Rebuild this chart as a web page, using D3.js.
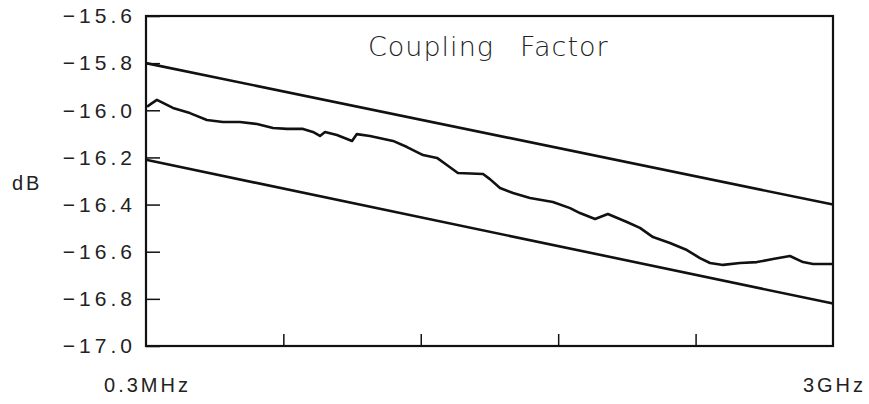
<!DOCTYPE html>
<html lang="en">
<head>
<meta charset="UTF-8">
<title>Coupling Factor</title>
<script src="https://d3js.org/d3.v7.min.js"></script>
<style>
  body { margin: 0; background: #fff; }
  .lbl { font-family: "Liberation Sans", Arial, sans-serif; fill: #222; }
  .title { font-family: "DejaVu Sans", sans-serif; font-weight: 200; fill: #222; }
</style>
</head>
<body>
<div id="chart"></div>
<script>
// frequency in MHz, coupling in dB
const freq = [5, 22, 48, 118, 192, 266, 336, 410, 485, 555, 616, 686, 729, 760, 782, 834,
  900, 921, 978, 1079, 1140, 1210, 1271, 1314, 1362, 1472, 1502, 1546, 1603, 1677, 1777,
  1852, 1895, 1961, 2017, 2100, 2157, 2214, 2288, 2362, 2419, 2463, 2520, 2594, 2668,
  2738, 2812, 2869, 2913, 2987, 3000];
const coupling = [-15.985, -15.973, -15.956, -15.990, -16.012, -16.041, -16.050, -16.050,
  -16.058, -16.075, -16.079, -16.079, -16.092, -16.109, -16.092, -16.105, -16.130, -16.101,
  -16.109, -16.130, -16.156, -16.190, -16.202, -16.232, -16.266, -16.270, -16.292, -16.330,
  -16.351, -16.372, -16.389, -16.415, -16.436, -16.461, -16.440, -16.474, -16.499, -16.538,
  -16.563, -16.593, -16.627, -16.648, -16.656, -16.648, -16.644, -16.631, -16.618, -16.644,
  -16.652, -16.652, -16.652];

// limit lines (start / end)
const limitFreq = [0.3, 3000];
const upperLimit = [-15.8, -16.4];
const lowerLimit = [-16.21, -16.82];

const yTicks = [-15.6, -15.8, -16.0, -16.2, -16.4, -16.6, -16.8, -17.0];
const xTicks = [600, 1200, 1800, 2400];
const xEndLabels = ["0.3MHz", "3GHz"];

const width = 869, height = 404;
const margin = {top: 16, right: 36, bottom: 58, left: 146};
const w = width - margin.left - margin.right;
const h = height - margin.top - margin.bottom;

const svg = d3.select("#chart").append("svg")
  .attr("width", width)
  .attr("height", height);

const g = svg.append("g")
  .attr("transform", `translate(${margin.left},${margin.top})`);

const x = d3.scaleLinear().domain([0.3, 3000]).range([0, w]);
const y = d3.scaleLinear().domain([-15.6, -17.0]).range([0, h]);

// y axis: inward ticks, labels outside
const yAxis = g.append("g")
  .call(d3.axisLeft(y).tickValues(yTicks).tickSize(-14).tickPadding(10)
    .tickFormat(d3.format(".1f")));
yAxis.select(".domain").remove();
yAxis.selectAll(".tick line").attr("stroke", "#111").attr("stroke-width", 1.5);
yAxis.selectAll(".tick text")
  .attr("class", "lbl")
  .style("font-size", "21px")
  .style("letter-spacing", "4px");

// x axis: inward ticks only
const xAxis = g.append("g")
  .attr("transform", `translate(0,${h})`)
  .call(d3.axisBottom(x).tickValues(xTicks).tickSize(-12).tickFormat(""));
xAxis.select(".domain").remove();
xAxis.selectAll(".tick line").attr("stroke", "#111").attr("stroke-width", 1.5);

g.selectAll(".xend")
  .data(xEndLabels)
  .enter().append("text")
  .attr("class", "lbl")
  .attr("x", (d, i) => x(limitFreq[i]) + 1.5)
  .attr("y", h + 46)
  .attr("text-anchor", "middle")
  .style("font-size", "20px")
  .style("letter-spacing", "3px")
  .text(d => d);

svg.append("text")
  .attr("class", "lbl")
  .attr("x", 12)
  .attr("y", 190)
  .style("font-size", "20px")
  .style("letter-spacing", "3px")
  .text("dB");

// frame
g.append("rect")
  .attr("width", w)
  .attr("height", h)
  .attr("fill", "none")
  .attr("stroke", "#111")
  .attr("stroke-width", 2.2);

const line = d3.line()
  .x(d => x(d[0]))
  .y(d => y(d[1]));

[upperLimit, lowerLimit].forEach(lim => {
  g.append("path")
    .attr("d", line(limitFreq.map((f, i) => [f, lim[i]])))
    .attr("fill", "none")
    .attr("stroke", "#111")
    .attr("stroke-width", 2.6);
});

g.append("path")
  .attr("d", line(freq.map((f, i) => [f, coupling[i]])))
  .attr("fill", "none")
  .attr("stroke", "#111")
  .attr("stroke-width", 2.6)
  .attr("stroke-linejoin", "round");

const title = svg.append("text")
  .attr("class", "title")
  .attr("x", 368)
  .attr("y", 56)
  .style("font-size", "27px")
  .style("letter-spacing", "1px");
title.append("tspan").text("Coupling");
title.append("tspan").attr("x", 520).text("Factor");
</script>
</body>
</html>
